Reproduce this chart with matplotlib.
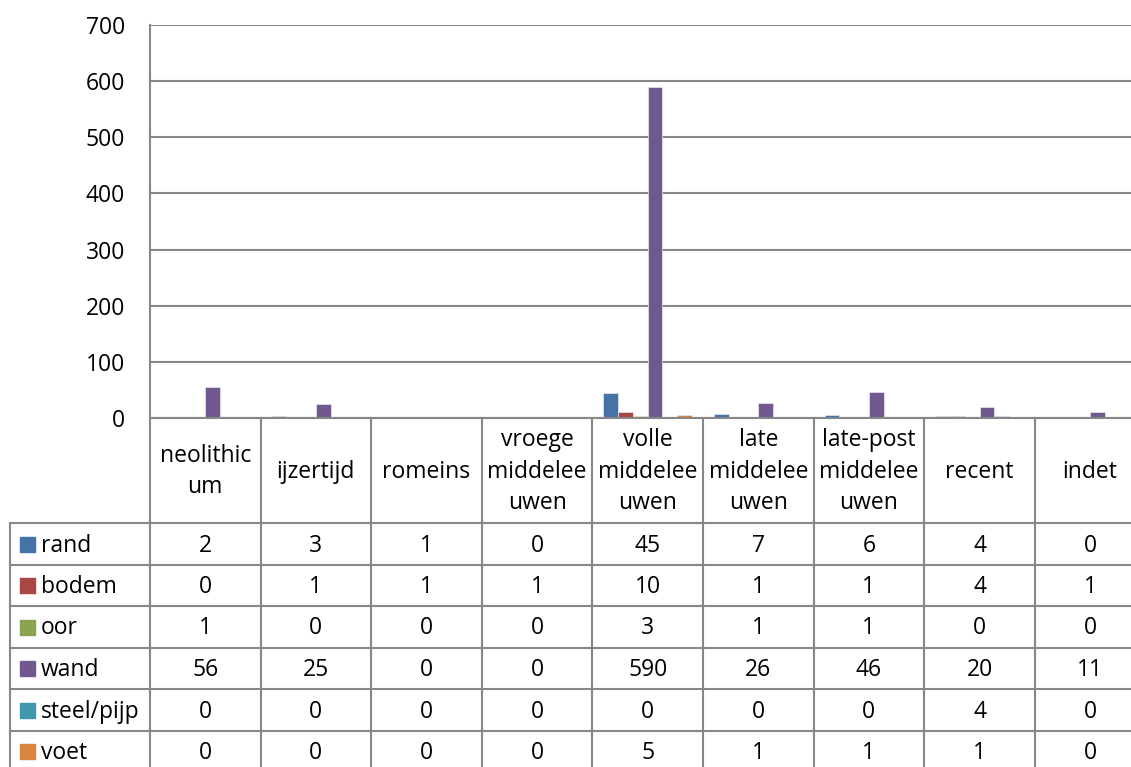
import matplotlib
matplotlib.use("Agg")
import matplotlib.pyplot as plt
import numpy as np
from matplotlib.lines import Line2D
from matplotlib.patches import Rectangle

categories = ["neolithic\num", "ijzertijd", "romeins", "vroege\nmiddelee\nuwen",
              "volle\nmiddelee\nuwen", "late\nmiddelee\nuwen", "late-post\nmiddelee\nuwen",
              "recent", "indet"]
series_names = ["rand", "bodem", "oor", "wand", "steel/pijp", "voet"]
rand = [2, 3, 1, 0, 45, 7, 6, 4, 0]
bodem = [0, 1, 1, 1, 10, 1, 1, 4, 1]
oor = [1, 0, 0, 0, 3, 1, 1, 0, 0]
wand = [56, 25, 0, 0, 590, 26, 46, 20, 11]
steel = [0, 0, 0, 0, 0, 0, 0, 4, 0]
voet = [0, 0, 0, 0, 5, 1, 1, 1, 0]
series_values = [rand, bodem, oor, wand, steel, voet]
colors = ["#4572A7", "#AA4643", "#89A54E", "#71588F", "#4198AF", "#DB843D"]
yticks = [0, 100, 200, 300, 400, 500, 600, 700]

FONT = "Open Sans"
FS = 16.5
GRID = "#878787"

W, H = 1131, 767
fig = plt.figure(figsize=(W / 100, H / 100), dpi=100)

# pixel geometry
x0 = 150
cat_w = 110.6
y_top, y_zero = 25, 418
n = len(categories)

ax = fig.add_axes([x0 / W, 1 - y_zero / H, n * cat_w / W, (y_zero - y_top) / H])
ax.set_xlim(0, n)
ax.set_ylim(0, 700)
gap = 1.5
bw = 1.0 / (len(series_names) + gap)
x = np.arange(n)
for i, (vals, c) in enumerate(zip(series_values, colors)):
    ax.bar(x + gap / 2 * bw + i * bw, vals, width=bw, align="edge", color=c,
           edgecolor="#e8e8f0", linewidth=0.5, zorder=3)
ax.set_yticks(yticks)
ax.set_yticklabels([str(t) for t in yticks], fontfamily=FONT, fontsize=FS)
ax.tick_params(axis="y", length=0, pad=18)
ax.set_xticks([])
ax.grid(axis="y", color=GRID, linewidth=1.5, zorder=0)
for s in ["top", "right", "bottom"]:
    ax.spines[s].set_visible(False)
ax.spines["left"].set_color(GRID)
ax.spines["left"].set_linewidth(1.5)

# table in pixel coordinates via an overlay axes
tab = fig.add_axes([0, 0, 1, 1])
tab.set_xlim(0, W)
tab.set_ylim(H, 0)
tab.axis("off")

row_tops = [523, 565, 606, 648, 689, 731, 772]
right = x0 + n * cat_w
def hline(y, xa, xb):
    tab.add_line(Line2D([xa, xb], [y, y], color=GRID, linewidth=1.5))
def vline(xv, ya, yb):
    tab.add_line(Line2D([xv, xv], [ya, yb], color=GRID, linewidth=1.5))

hline(y_zero, x0, right)
for yv in row_tops[:-1]:
    hline(yv, 10, right)
vline(10, row_tops[0], H + 5)
for k in range(n + 1):
    vline(x0 + k * cat_w, y_zero, H + 5)

dy = 1.5
# header labels
for k, lab in enumerate(categories):
    tab.text(x0 + (k + 0.5) * cat_w, 470 + dy, lab, ha="center", va="center",
             fontfamily=FONT, fontsize=FS, linespacing=1.43)

# rows
for r, (name, vals, c) in enumerate(zip(series_names, series_values, colors)):
    yc = (row_tops[r] + row_tops[r + 1]) / 2
    tab.add_patch(Rectangle((20, yc - 7.5), 15, 15, color=c))
    tab.text(41, yc + dy, name, ha="left", va="center", fontfamily=FONT, fontsize=FS)
    for k, v in enumerate(vals):
        tab.text(x0 + (k + 0.5) * cat_w, yc + dy, str(v), ha="center", va="center",
                 fontfamily=FONT, fontsize=FS)

fig.savefig("out.png", dpi=100)
